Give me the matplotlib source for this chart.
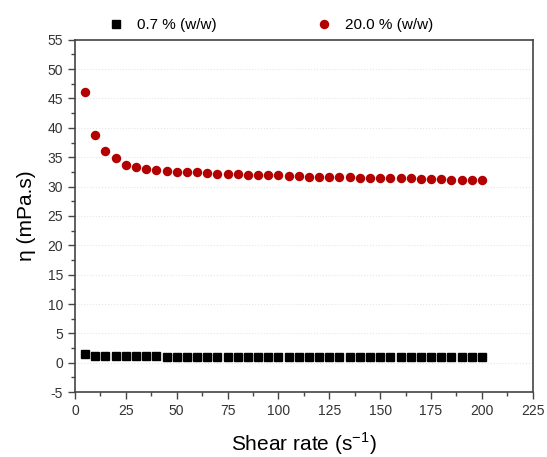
import matplotlib
matplotlib.use("Agg")
import matplotlib.pyplot as plt
from matplotlib.ticker import MultipleLocator

plt.rcParams['font.family'] = ['Liberation Sans', 'DejaVu Sans']
plt.rcParams['axes.unicode_minus'] = False

shear_rate = [5, 10, 15, 20, 25, 30, 35, 40, 45, 50, 55, 60, 65, 70, 75, 80, 85, 90, 95, 100,
              105, 110, 115, 120, 125, 130, 135, 140, 145, 150, 155, 160, 165, 170, 175, 180, 185, 190, 195, 200]
visc_20 = [46.1, 38.8, 36.1, 34.9, 33.7, 33.4, 33.0, 32.8, 32.7, 32.5, 32.4, 32.4, 32.3, 32.1, 32.1, 32.1, 32.0, 32.0, 32.0, 32.0,
           31.8, 31.8, 31.7, 31.7, 31.7, 31.6, 31.6, 31.5, 31.5, 31.5, 31.4, 31.4, 31.4, 31.3, 31.3, 31.3, 31.2, 31.2, 31.1, 31.1]
visc_07 = [1.5, 1.2, 1.1, 1.1, 1.1, 1.1, 1.1, 1.1, 1.0, 1.0, 1.0, 1.0, 1.0, 1.0, 1.0, 1.0, 1.0, 1.0, 1.0, 1.0,
           1.0, 1.0, 1.0, 1.0, 1.0, 1.0, 1.0, 1.0, 1.0, 1.0, 1.0, 1.0, 1.0, 1.0, 1.0, 1.0, 1.0, 1.0, 1.0, 1.0]
labels = ['0.7 % (w/w)', '20.0 % (w/w)']

fig = plt.figure(figsize=(5.47, 4.57), dpi=100)
ax = fig.add_axes([0.137, 0.142, 0.837, 0.771])

ax.plot(shear_rate, visc_07, 's', color='black', markersize=5.2, label=labels[0], zorder=3)
ax.plot(shear_rate, visc_20, 'o', color='#b30000', markersize=6.8, markeredgewidth=0, label=labels[1], zorder=3)

ax.set_xlim(0, 225)
ax.set_ylim(-5, 55)
ax.xaxis.set_major_locator(MultipleLocator(25))
ax.xaxis.set_minor_locator(MultipleLocator(12.5))
ax.yaxis.set_major_locator(MultipleLocator(5))
ax.yaxis.set_minor_locator(MultipleLocator(2.5))
ax.yaxis.grid(True, which='major', color='#e6e6e6', linestyle=':', linewidth=0.8)
ax.set_axisbelow(True)

ax.tick_params(axis='both', which='major', direction='out', length=5, width=1, colors='#444444',
               labelsize=10, labelcolor='#333333')
ax.tick_params(axis='both', which='minor', direction='out', length=3, width=1, colors='#444444')
for s in ax.spines.values():
    s.set_color('#444444')
    s.set_linewidth(1.2)

ax.set_xlabel('Shear rate (s$^{\\mathregular{-1}}$)', fontsize=15, labelpad=9)
ax.set_ylabel('η (mPa.s)', fontsize=15, labelpad=8)

fig.legend(loc='center', bbox_to_anchor=(0.495, 0.945), ncol=2, frameon=False, fontsize=11,
           handlelength=1.0, handletextpad=0.9, columnspacing=6.5)

fig.savefig('out.png', dpi=100)
